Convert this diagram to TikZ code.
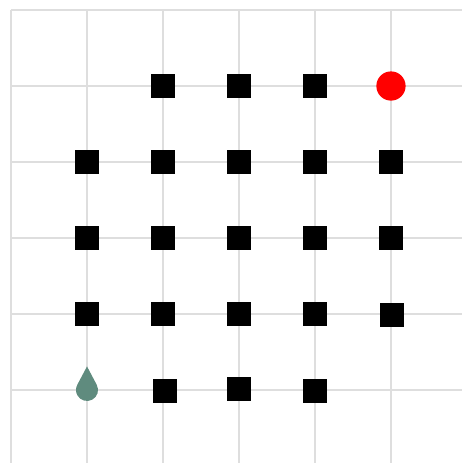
\documentclass[tikz,border=0pt]{standalone}
\usepackage{tikz}
\usepackage{xcolor}
\usetikzlibrary{positioning, arrows.meta, shapes.geometric}

\definecolor{dropgreen}{RGB}{95,139,126}
\definecolor{gridgray}{RGB}{222,222,222}

\tikzset{
  block/.style={draw=none,rectangle,fill=black,minimum size=0.32cm,inner sep=0pt},
  goal/.style={circle,fill=red,minimum size=0.385cm,inner sep=0pt}
}

\begin{document}
\begin{tikzpicture}[>=Stealth]
  \useasboundingbox (-0.145,-0.961) rectangle (5.934,5.132);
  \draw[gridgray,line width=0.9pt](0,-0.961) grid (5.934,5);
  % top row
  \node[block](b12) at (2,4){};
  \node[block](b13) at (3,4){};
  \node[block](b14) at (4,4){};
  \node[goal](g) at (5,4){};
  % middle rows
  \foreach \c in {1,...,5}{
    \node[block](b2\c) at (\c,3){};
    \node[block](b3\c) at (\c,2){};
  }
  \node[block](b41) at (1,1){};
  \node[block](b42) at (2,1){};
  \node[block](b43) at (3,1){};
  \node[block](b44) at (4,1){};
  \node[block](b45) at (5.01,0.99){};
  % bottom row
  \node[block](b52) at (2.03,-0.01){};
  \node[block](b53) at (3,0.01){};
  \node[block](b54) at (4,-0.01){};
  \coordinate (start) at (1,0);
  \fill[dropgreen] ([yshift=0.31cm]start) -- ([shift={(28:0.145)}]start)
       arc[start angle=28,end angle=-208,radius=0.145] -- cycle;
\end{tikzpicture}
\end{document}
